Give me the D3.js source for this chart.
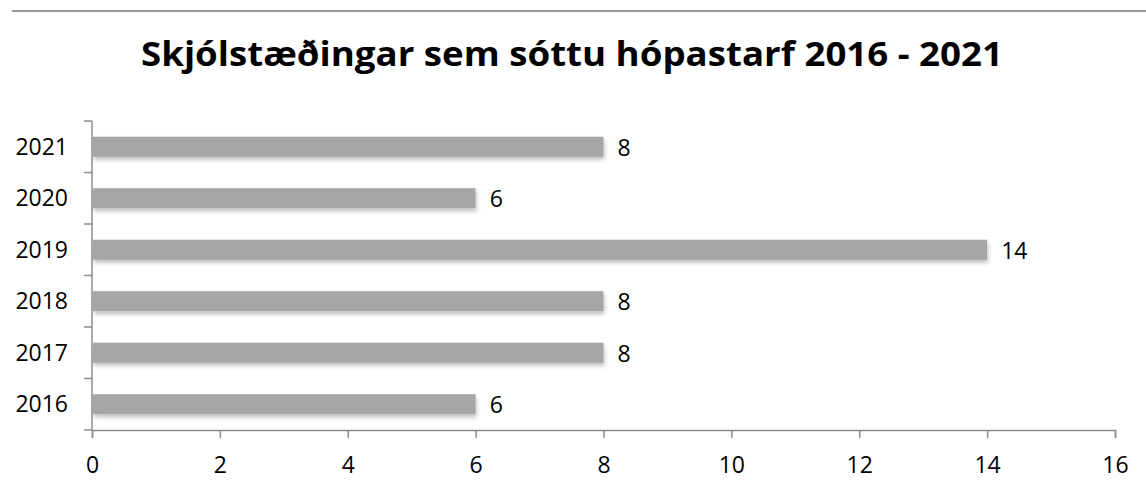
<!DOCTYPE html>
<html>
<head>
<meta charset="utf-8">
<script src="https://cdn.jsdelivr.net/npm/d3@7"></script>
<style>
	body { margin: 0; background: #fff; }
	text { font-family: "Open Sans", "Noto Sans", sans-serif; fill: #000; }
</style>
</head>
<body>
<div id="chart"></div>
<script>
// chart data
var years = ["2016", "2017", "2018", "2019", "2020", "2021"];
var counts = [6, 8, 8, 14, 6, 8];
var xTicks = [0, 2, 4, 6, 8, 10, 12, 14, 16];
var title = "Skjólstæðingar sem sóttu hópastarf 2016 - 2021";

var width = 1146,
	height = 491;

var margin = {top: 121, right: 31, bottom: 61, left: 92};

var svg = d3.select("#chart").append("svg")
	.attr("width", width)
	.attr("height", height);

// shadow under the bars
var defs = svg.append("defs");
var shadow = defs.append("filter")
	.attr("id", "shadow")
	.attr("x", "-5%").attr("y", "-30%")
	.attr("width", "110%").attr("height", "180%");
shadow.append("feDropShadow")
	.attr("dx", 1).attr("dy", 3)
	.attr("stdDeviation", 2)
	.attr("flood-color", "#000")
	.attr("flood-opacity", 0.25);

// thin line on top
svg.append("line")
	.attr("x1", 12).attr("x2", width)
	.attr("y1", 11).attr("y2", 11)
	.attr("stroke", "#9a9a9a")
	.attr("stroke-width", 2);

svg.append("text")
	.attr("x", 572)
	.attr("y", 66)
	.attr("text-anchor", "middle")
	.attr("font-size", 34)
	.attr("font-weight", "bold")
	.attr("textLength", 862)
	.attr("lengthAdjust", "spacingAndGlyphs")
	.text(title);

var x = d3.scaleLinear()
	.domain([0, 16])
	.range([margin.left, width - margin.right]);

// 2021 on top
var y = d3.scaleBand()
	.domain(years.slice().reverse())
	.range([margin.top, height - margin.bottom])
	.paddingInner(0.61)
	.paddingOuter(0.305);

var yBands = d3.scaleBand()
	.domain(years.slice().reverse())
	.range([margin.top, height - margin.bottom]);

var data = years.map((d, i) => ({year: d, value: counts[i]}));

svg.append("g")
	.selectAll("rect")
	.data(data)
	.enter()
	.append("rect")
	.attr("x", x(0) + 1)
	.attr("y", d => y(d.year))
	.attr("width", d => x(d.value) - x(0) - 1)
	.attr("height", y.bandwidth())
	.attr("fill", "#a6a6a6")
	.attr("filter", "url(#shadow)");

svg.append("g")
	.selectAll("text")
	.data(data)
	.enter()
	.append("text")
	.attr("x", d => x(d.value) + 14)
	.attr("y", d => y(d.year) + y.bandwidth() / 2 + 9)
	.attr("font-size", 23)
	.text(d => d.value);

// axes
var xAxis = svg.append("g")
	.attr("transform", "translate(0," + (height - margin.bottom) + ")")
	.call(d3.axisBottom(x).tickValues(xTicks).tickSize(8).tickPadding(19));

// y axis ticks sit on band edges, labels in the middle
var yAxis = svg.append("g")
	.attr("transform", "translate(" + margin.left + ",0)");
yAxis.append("line")
	.attr("y1", margin.top).attr("y2", height - margin.bottom)
	.attr("stroke", "#8c8c8c").attr("stroke-width", 1.5);
var edges = years.map(d => yBands(d)).concat([height - margin.bottom]);
yAxis.selectAll(".tk")
	.data(edges)
	.enter()
	.append("line")
	.attr("class", "tk")
	.attr("x1", -8).attr("x2", 0)
	.attr("y1", d => d).attr("y2", d => d)
	.attr("stroke", "#8c8c8c").attr("stroke-width", 1.5);
yAxis.selectAll(".lbl")
	.data(years)
	.enter()
	.append("text")
	.attr("class", "lbl")
	.attr("x", -24)
	.attr("y", d => yBands(d) + yBands.bandwidth() / 2 + 8)
	.attr("text-anchor", "end")
	.attr("font-size", 23)
	.text(d => d);

xAxis.select(".domain").attr("stroke", "#8c8c8c").attr("stroke-width", 1.5);
xAxis.selectAll(".tick line").attr("stroke", "#8c8c8c").attr("stroke-width", 1.5);
xAxis.selectAll(".tick text")
	.attr("font-size", 23)
	.attr("font-family", "'Open Sans', sans-serif")
	.attr("fill", "#000");
</script>
</body>
</html>
